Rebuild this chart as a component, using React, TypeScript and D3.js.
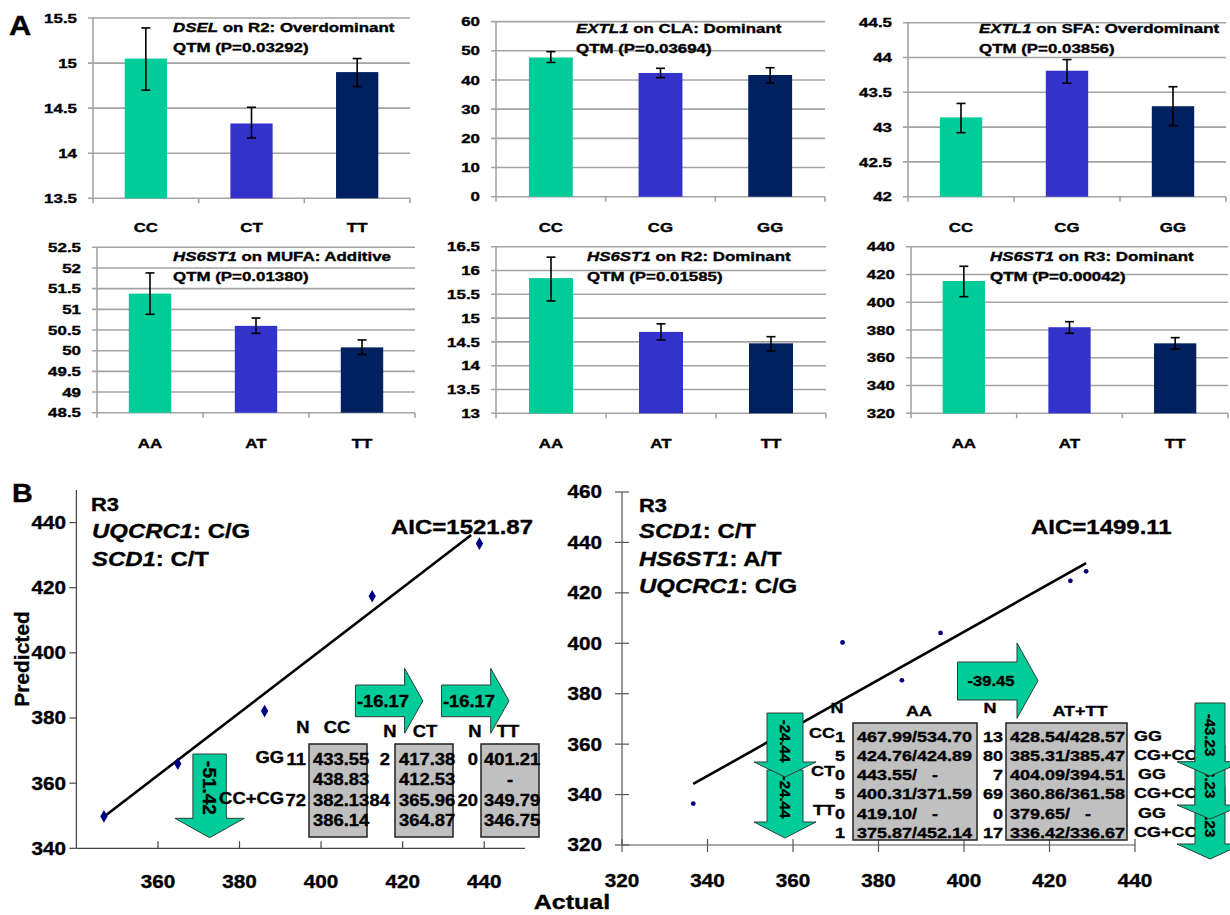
import React from "react";
import * as d3 from "d3";

const FONT = "'Liberation Sans', Arial, Helvetica, sans-serif";

// ---------- Panel A data ----------
const catsCT = ["CC", "CT", "TT"];
const catsCG = ["CC", "CG", "GG"];
const catsAT = ["AA", "AT", "TT"];

const a1Means = [15.05, 14.33, 14.9];
const a1Lo = [14.7, 14.17, 14.74];
const a1Hi = [15.39, 14.51, 15.05];
const a1Ticks = [13.5, 14, 14.5, 15, 15.5];

const a2Means = [47.7, 42.4, 41.7];
const a2Lo = [46.0, 40.8, 39.0];
const a2Hi = [49.7, 44.0, 44.2];
const a2Ticks = [0, 10, 20, 30, 40, 50, 60];

const a3Means = [43.14, 43.81, 43.3];
const a3Lo = [42.92, 43.63, 43.02];
const a3Hi = [43.34, 43.97, 43.58];
const a3Ticks = [42, 42.5, 43, 43.5, 44, 44.5];

const a4Means = [51.38, 50.6, 50.08];
const a4Lo = [50.88, 50.42, 49.91];
const a4Hi = [51.88, 50.79, 50.26];
const a4Ticks = [48.5, 49, 49.5, 50, 50.5, 51, 51.5, 52, 52.5];

const a5Means = [15.84, 14.71, 14.47];
const a5Lo = [15.36, 14.54, 14.31];
const a5Hi = [16.28, 14.88, 14.61];
const a5Ticks = [13, 13.5, 14, 14.5, 15, 15.5, 16, 16.5];

const a6Means = [415.3, 382.0, 370.4];
const a6Lo = [404.0, 377.6, 366.3];
const a6Hi = [425.9, 386.0, 374.5];
const a6Ticks = [320, 340, 360, 380, 400, 420, 440];

const aGenes = ["DSEL", "EXTL1", "EXTL1", "HS6ST1", "HS6ST1", "HS6ST1"];
const aTraits = [
  " on R2: Overdominant",
  " on CLA: Dominant",
  " on SFA: Overdominant",
  " on MUFA: Additive",
  " on R2: Dominant",
  " on R3: Dominant",
];
const aPvals = [
  "QTM (P=0.03292)",
  "QTM (P=0.03694)",
  "QTM (P=0.03856)",
  "QTM (P=0.01380)",
  "QTM (P=0.01585)",
  "QTM (P=0.00042)",
];

// ---------- Panel B data ----------
const leftActual = [346.75, 364.87, 386.14, 412.53, 438.83];
const leftPredicted = [349.79, 365.96, 382.13, 417.38, 433.55];
const leftFitActual = [346.75, 436.8];
const leftFitPredicted = [349.7, 436.2];
const leftXTicks = [360, 380, 400, 420, 440];
const leftYTicks = [340, 360, 380, 400, 420, 440];

const rightActual = [336.67, 371.59, 385.47, 394.51, 424.89, 428.57];
const rightPredicted = [336.42, 400.31, 385.31, 404.09, 424.76, 428.54];
const rightFitActual = [336.67, 428.57];
const rightFitPredicted = [344.2, 431.8];
const rightXTicks = [320, 340, 360, 380, 400, 420, 440];
const rightYTicks = [320, 340, 360, 380, 400, 420, 440, 460];

const leftCols = ["CC", "CT", "TT"];
const leftRowLabels = ["GG", "", "CC+CG", ""];
const leftNs = [
  ["11", "2", "0"],
  ["", "", ""],
  ["72", "84", "20"],
  ["", "", ""],
];
const leftCC = ["433.55", "438.83", "382.13", "386.14"];
const leftCTv = ["417.38", "412.53", "365.96", "364.87"];
const leftTTv = ["401.21", "-", "349.79", "346.75"];

const rightRowLabels = ["CC", "", "CT", "", "TT", ""];
const rightN1 = ["1", "5", "0", "5", "0", "1"];
const rightAA = ["467.99/534.70", "424.76/424.89", "443.55/   -", "400.31/371.59", "419.10/   -", "375.87/452.14"];
const rightN2 = ["13", "80", "7", "69", "0", "17"];
const rightATTT = ["428.54/428.57", "385.31/385.47", "404.09/394.51", "360.86/361.58", "379.65/   -", "336.42/336.67"];
const rightSide = ["GG", "CG+CC", "GG", "CG+CC", "GG", "CG+CC"];

const leftArrowVals = ["-16.17", "-16.17", "-51.42"];
const rightArrowVals = ["-39.45", "-24.44", "-24.44", "-43.23", "-43.23", "-43.23"];

// ---------- colours ----------
const barColors = ["#00CC99", "#3333CC", "#002060"];
const GRID = "#a3a3a3";
const ARROW_FILL = "#00CC99";
const ARROW_STROKE = "#2f3f3a";
const HEAVY = 0.35;

type TP = {
  x: number; y: number; sx?: number; size: number; anchor?: string;
  italic?: boolean; weight?: string; rotate?: number; children?: any; fill?: string; db?: string; pre?: boolean;
};
function T({ x, y, sx = 1, size, anchor = "start", italic = false, weight = "bold", rotate = 0, children, fill = "#000", db, pre }: TP) {
  return (
    <text
      transform={`translate(${x},${y}) rotate(${rotate}) scale(${sx},1)`}
      fontSize={size}
      fontFamily={FONT}
      fontWeight={weight}
      fontStyle={italic ? "italic" : "normal"}
      textAnchor={anchor as any}
      dominantBaseline={db as any}
      fill={fill}
      stroke={fill}
      strokeWidth={HEAVY}
      style={pre ? { whiteSpace: "pre" } : undefined}
    >
      {children}
    </text>
  );
}

const aLayout = [
  { x0: 93, x1: 410, yTop: 18, yBot: 198.3, tx: 173, ty: 32, labY: 232 },
  { x0: 496, x1: 825, yTop: 21.6, yBot: 196.7, tx: 576, ty: 33, labY: 232 },
  { x0: 908, x1: 1226, yTop: 22.7, yBot: 196.7, tx: 979, ty: 33, labY: 232 },
  { x0: 97, x1: 415, yTop: 247.3, yBot: 412.7, tx: 173, ty: 260.5, labY: 448 },
  { x0: 496, x1: 826, yTop: 246.7, yBot: 413.3, tx: 587, ty: 260.5, labY: 448 },
  { x0: 911, x1: 1228, yTop: 246.7, yBot: 413.3, tx: 990, ty: 260.5, labY: 448 },
];

const aData = [
  { cats: catsCT, means: a1Means, lo: a1Lo, hi: a1Hi, ticks: a1Ticks },
  { cats: catsCG, means: a2Means, lo: a2Lo, hi: a2Hi, ticks: a2Ticks },
  { cats: catsCG, means: a3Means, lo: a3Lo, hi: a3Hi, ticks: a3Ticks },
  { cats: catsAT, means: a4Means, lo: a4Lo, hi: a4Hi, ticks: a4Ticks },
  { cats: catsAT, means: a5Means, lo: a5Lo, hi: a5Hi, ticks: a5Ticks },
  { cats: catsAT, means: a6Means, lo: a6Lo, hi: a6Hi, ticks: a6Ticks },
];

const ASX = 1.3;

function BarChart({ i }: { i: number }) {
  const L = aLayout[i];
  const D = aData[i];
  const x = d3.scaleBand().domain(D.cats).range([L.x0, L.x1]).paddingInner(0.6).paddingOuter(0.3);
  const y = d3.scaleLinear().domain([D.ticks[0], D.ticks[D.ticks.length - 1]]).range([L.yBot, L.yTop]);
  const step = x.step();
  return (
    <g>
      {D.ticks.map((t) => (
        <g key={t}>
          <line x1={L.x0 - 5} x2={L.x1} y1={y(t)} y2={y(t)} stroke={GRID} strokeWidth={1.6} />
          <T x={L.x0 - 16} y={y(t) + 4.7} size={13} sx={ASX} anchor="end">{String(t)}</T>
        </g>
      ))}
      <line x1={L.x0} x2={L.x0} y1={L.yTop} y2={L.yBot} stroke={GRID} strokeWidth={1.6} />
      {[0, 1, 2, 3].map((k) => (
        <line key={k} x1={L.x0 + k * step} x2={L.x0 + k * step} y1={L.yBot} y2={L.yBot + 5} stroke={GRID} strokeWidth={1.6} />
      ))}
      {D.cats.map((c, j) => (
        <rect key={c} x={x(c)!} width={x.bandwidth()} y={y(D.means[j])} height={L.yBot - y(D.means[j])} fill={barColors[j]} />
      ))}
      {D.cats.map((c, j) => {
        const cx = x(c)! + x.bandwidth() / 2;
        return (
          <g key={c + "e"} stroke="#000" strokeWidth={1.6}>
            <line x1={cx} x2={cx} y1={y(D.hi[j])} y2={y(D.lo[j])} />
            <line x1={cx - 4.5} x2={cx + 4.5} y1={y(D.hi[j])} y2={y(D.hi[j])} />
            <line x1={cx - 4.5} x2={cx + 4.5} y1={y(D.lo[j])} y2={y(D.lo[j])} />
          </g>
        );
      })}
      {D.cats.map((c) => (
        <T key={c + "l"} x={x(c)! + x.bandwidth() / 2} y={L.labY} size={13} sx={ASX} anchor="middle">{c}</T>
      ))}
      <text transform={`translate(${L.tx},${L.ty}) scale(${ASX},1)`} fontSize={13} fontFamily={FONT} fontWeight="bold" stroke="#000" strokeWidth={HEAVY}>
        <tspan fontStyle="italic">{aGenes[i]}</tspan>
        <tspan>{aTraits[i]}</tspan>
      </text>
      <T x={L.tx} y={L.ty + 20} size={13} sx={ASX}>{aPvals[i]}</T>
    </g>
  );
}

function downArrow(cx: number, bw: number, hw: number, top: number, hb: number, tip: number) {
  return `M${cx - bw},${top}L${cx + bw},${top}L${cx + bw},${hb}L${cx + hw},${hb}L${cx},${tip}L${cx - hw},${hb}L${cx - bw},${hb}Z`;
}
function rightArrow(x0: number, by0: number, by1: number, hb: number, hy0: number, hy1: number, tip: number) {
  return `M${x0},${by0}L${hb},${by0}L${hb},${hy0}L${tip},${(hy0 + hy1) / 2}L${hb},${hy1}L${hb},${by1}L${x0},${by1}Z`;
}

function GeneLine({ x, y, gene, rest, size, sx }: { x: number; y: number; gene: string; rest: string; size: number; sx: number }) {
  return (
    <text transform={`translate(${x},${y}) scale(${sx},1)`} fontSize={size} fontFamily={FONT} fontWeight="bold" stroke="#000" strokeWidth={HEAVY}>
      <tspan fontStyle="italic">{gene}</tspan>
      <tspan>{rest}</tspan>
    </text>
  );
}

function LeftScatter() {
  const x = d3.scaleLinear().domain([340, 450]).range([76.4, 525]);
  const y = d3.scaleLinear().domain([340, 450]).range([848.3, 490]);
  const line = d3.line<number>().x((_, k) => x(leftFitActual[k])).y((d) => y(d));
  const diamond = d3.symbol().type(d3.symbolDiamond).size(46)()!;
  const BSX = 1.15;
  const rowY = (r: number) => 765 + r * 20.3;
  const cols = [
    { bx0: 309, bx1: 367, nRight: 306, textX: 313, hdrN: 303, hdrG: 337, hdrY: 733, vals: leftCC },
    { bx0: 395, bx1: 453, nRight: 390, textX: 399, hdrN: 390, hdrG: 425, hdrY: 737, vals: leftCTv },
    { bx0: 481, bx1: 539, nRight: 478, textX: 484, hdrN: 475, hdrG: 508, hdrY: 737, vals: leftTTv },
  ];
  return (
    <g>
      <line x1={x(340)} x2={x(340)} y1={490} y2={y(340)} stroke="#444" strokeWidth={1.2} />
      <line x1={x(340)} x2={x(450)} y1={y(340)} y2={y(340)} stroke="#444" strokeWidth={1.2} />
      {leftYTicks.map((t) => (
        <g key={t}>
          <line x1={x(340) - 7} x2={x(340)} y1={y(t)} y2={y(t)} stroke="#444" strokeWidth={1.2} />
          <T x={66} y={y(t) + 6.4} size={18} sx={BSX} anchor="end">{String(t)}</T>
        </g>
      ))}
      {leftXTicks.map((t) => (
        <g key={t}>
          <line x1={x(t)} x2={x(t)} y1={y(340) - 7} y2={y(340)} stroke="#444" strokeWidth={1.2} />
          <T x={x(t)} y={888} size={18} sx={BSX} anchor="middle">{String(t)}</T>
        </g>
      ))}
      <path d={line(leftFitPredicted) || ""} stroke="#000" strokeWidth={2.6} fill="none" />
      {leftActual.map((a, k) => (
        <path key={k} d={diamond} transform={`translate(${x(a)},${y(leftPredicted[k])})`} fill="#000080" />
      ))}
      <T x={91} y={510.7} size={19} sx={1.15}>R3</T>
      <GeneLine x={92} y={538.3} gene="UQCRC1" rest=": C/G" size={21} sx={1.14} />
      <GeneLine x={92} y={565.7} gene="SCD1" rest=": C/T" size={21} sx={1.14} />
      <T x={391} y={534} size={20} sx={1.2}>AIC=1521.87</T>

      <path d={rightArrow(355.4, 685, 716.7, 404.6, 668.3, 733.3, 422.9)} fill={ARROW_FILL} stroke={ARROW_STROKE} strokeWidth={1} />
      <T x={383} y={707} size={16} sx={BSX} anchor="middle">{leftArrowVals[0]}</T>
      <path d={rightArrow(441.5, 685, 716.7, 490.7, 668.3, 733.3, 509)} fill={ARROW_FILL} stroke={ARROW_STROKE} strokeWidth={1} />
      <T x={469} y={707} size={16} sx={BSX} anchor="middle">{leftArrowVals[1]}</T>
      <path d={downArrow(209.6, 16.7, 34.7, 754, 818.3, 837.7)} fill={ARROW_FILL} stroke={ARROW_STROKE} strokeWidth={1} />
      <T x={209.6} y={788} size={19} rotate={90} anchor="middle" db="central">{leftArrowVals[2]}</T>

      {cols.map((c, ci) => (
        <g key={ci}>
          <rect x={c.bx0} y={744} width={c.bx1 - c.bx0} height={93} fill="#c0c0c0" stroke="#222" strokeWidth={1.5} />
          <T x={c.hdrN} y={c.hdrY} size={16} sx={BSX} anchor="middle">N</T>
          <T x={c.hdrG} y={c.hdrY} size={16} sx={BSX} anchor="middle">{leftCols[ci]}</T>
          {c.vals.map((v, r) =>
            v === "-" ? (
              <T key={r} x={(c.bx0 + c.bx1) / 2} y={rowY(r)} size={16} sx={BSX} anchor="middle">-</T>
            ) : (
              <T key={r} x={c.textX} y={rowY(r)} size={16} sx={BSX}>{v}</T>
            )
          )}
          {leftNs.map((row, r) =>
            row[ci] ? (
              <T key={"n" + r} x={c.nRight} y={rowY(r)} size={16} sx={BSX} anchor="end">{row[ci]}</T>
            ) : null
          )}
        </g>
      ))}
      {leftRowLabels.map((l, r) =>
        l ? (
          <T key={r} x={284} y={rowY(r) - 2} size={16} sx={BSX} anchor="end">{l}</T>
        ) : null
      )}
    </g>
  );
}

function RightScatter() {
  const x = d3.scaleLinear().domain([320, 440]).range([622, 1135]);
  const y = d3.scaleLinear().domain([320, 460]).range([845, 492]);
  const line = d3.line<number>().x((_, k) => x(rightFitActual[k])).y((d) => y(d));
  const BSX = 1.15;
  const TSX = 1.2;
  const rowY = (r: number) => 741.5 + r * 19.3;
  return (
    <g>
      <line x1={x(320)} x2={x(320)} y1={y(460)} y2={y(320)} stroke="#555" strokeWidth={1.2} />
      <line x1={x(320)} x2={x(440)} y1={y(320)} y2={y(320)} stroke="#555" strokeWidth={1.2} />
      {rightYTicks.map((t) => (
        <g key={t}>
          <line x1={x(320) - 7} x2={x(320) + 7} y1={y(t)} y2={y(t)} stroke="#555" strokeWidth={1.2} />
          <T x={602} y={y(t) + 6.4} size={18} sx={BSX} anchor="end">{String(t)}</T>
        </g>
      ))}
      {rightXTicks.map((t) => (
        <g key={t}>
          <line x1={x(t)} x2={x(t)} y1={y(320) - 6} y2={y(320) + 7} stroke="#555" strokeWidth={1.2} />
          <T x={x(t)} y={887} size={18} sx={BSX} anchor="middle">{String(t)}</T>
        </g>
      ))}
      <path d={line(rightFitPredicted) || ""} stroke="#000" strokeWidth={2.6} fill="none" />
      {rightActual.map((a, k) => (
        <circle key={k} cx={x(a)} cy={y(rightPredicted[k])} r={2.4} fill="#000080" />
      ))}
      <T x={639} y={511.7} size={19} sx={1.15}>R3</T>
      <GeneLine x={639} y={538.3} gene="SCD1" rest=": C/T" size={21} sx={1.14} />
      <GeneLine x={639} y={566} gene="HS6ST1" rest=": A/T" size={21} sx={1.14} />
      <GeneLine x={639} y={592.7} gene="UQCRC1" rest=": C/G" size={21} sx={1.14} />
      <T x={1031} y={534} size={20} sx={1.2}>AIC=1499.11</T>

      <rect x={853} y={723} width={124} height={117} fill="#c0c0c0" stroke="#222" strokeWidth={1.5} />
      <rect x={1006} y={723} width={121} height={117} fill="#c0c0c0" stroke="#222" strokeWidth={1.5} />
      <T x={837} y={713} size={15} sx={TSX} anchor="middle">N</T>
      <T x={919} y={716} size={15} sx={TSX} anchor="middle">AA</T>
      <T x={990} y={713} size={15} sx={TSX} anchor="middle">N</T>
      <T x={1080} y={716} size={15} sx={TSX} anchor="middle">AT+TT</T>
      {rightAA.map((v, r) => (
        <g key={r}>
          {rightRowLabels[r] ? (
            <T x={835} y={rowY(r) - 4} size={15} sx={TSX} anchor="end">{rightRowLabels[r]}</T>
          ) : null}
          <T x={845} y={rowY(r)} size={15} sx={TSX} anchor="end">{rightN1[r]}</T>
          <T x={857} y={rowY(r)} size={15} sx={TSX} pre>{v}</T>
          <T x={1003} y={rowY(r)} size={15} sx={TSX} anchor="end">{rightN2[r]}</T>
          <T x={1010} y={rowY(r)} size={15} sx={TSX} pre>{rightATTT[r]}</T>
          <T x={r % 2 === 0 && r > 0 ? 1138 : 1134} y={rowY(r) - 1} size={15} sx={TSX}>{rightSide[r]}</T>
        </g>
      ))}

      <path d={rightArrow(957.5, 662, 700, 1017, 643, 718.3, 1038)} fill={ARROW_FILL} stroke={ARROW_STROKE} strokeWidth={1} />
      <T x={991} y={686} size={14} sx={1.18} anchor="middle">{rightArrowVals[0]}</T>

      <path d={downArrow(785, 18, 31, 770, 822, 838)} fill={ARROW_FILL} stroke={ARROW_STROKE} strokeWidth={1} />
      <T x={785} y={797} size={15} rotate={90} anchor="middle" db="central">{rightArrowVals[2]}</T>
      <path d={downArrow(785, 18, 31, 713, 762, 777)} fill={ARROW_FILL} stroke={ARROW_STROKE} strokeWidth={1} />
      <T x={785} y={741} size={15} rotate={90} anchor="middle" db="central">{rightArrowVals[1]}</T>

      <path d={downArrow(1210, 15, 33, 786, 844, 859)} fill={ARROW_FILL} stroke={ARROW_STROKE} strokeWidth={1} />
      <T x={1210} y={816} size={15} rotate={90} anchor="middle" db="central">{rightArrowVals[5]}</T>
      <path d={downArrow(1210, 15, 33, 745, 805, 819)} fill={ARROW_FILL} stroke={ARROW_STROKE} strokeWidth={1} />
      <T x={1210} y={777} size={15} rotate={90} anchor="middle" db="central">{rightArrowVals[4]}</T>
      <path d={downArrow(1210, 15, 33, 703, 761.7, 776)} fill={ARROW_FILL} stroke={ARROW_STROKE} strokeWidth={1} />
      <T x={1210} y={735} size={15} rotate={90} anchor="middle" db="central">{rightArrowVals[3]}</T>
    </g>
  );
}

export default function App() {
  return (
    <svg
      width={1230}
      height={915}
      viewBox="0 0 1230 915"
      style={{ position: "absolute", left: 0, top: 0, display: "block", background: "#fff" }}
    >
      <rect x={0} y={0} width={1230} height={915} fill="#fff" />
      <T x={9} y={35} size={28} sx={1.1}>A</T>
      {aLayout.map((_, i) => (
        <BarChart key={i} i={i} />
      ))}
      <T x={12} y={502} size={25} sx={1.15}>B</T>
      <LeftScatter />
      <RightScatter />
      <T x={21} y={659} size={21} rotate={-90} anchor="middle" db="central">Predicted</T>
      <T x={572} y={909} size={20} sx={1.25} anchor="middle">Actual</T>
    </svg>
  );
}
